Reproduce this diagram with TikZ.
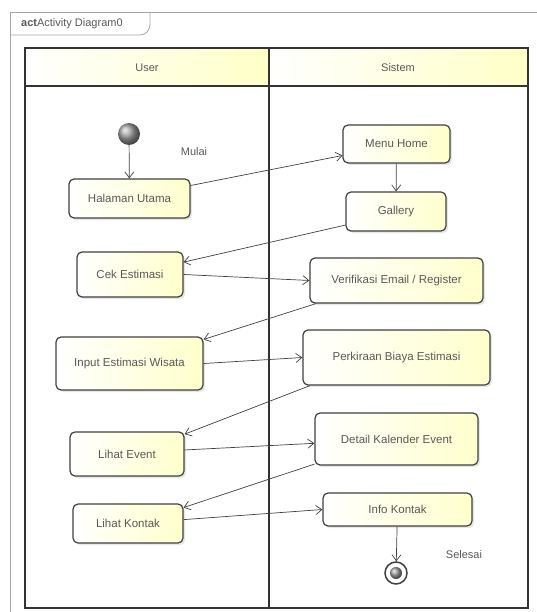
\documentclass[tikz,border=0pt]{standalone}
\usepackage{fontspec}
\setmainfont{Liberation Sans}
\usetikzlibrary{arrows.meta,shadows}

\begin{document}
\begin{tikzpicture}[x=1pt,y=-1pt,
  action/.style={draw=linegray, line width=1.2pt, rounded corners=5pt, left color=white, right color=actyellow,
    drop shadow={shadow xshift=2pt, shadow yshift=-2pt, opacity=0.2, fill=gray}, inner sep=0pt,
    font=\fontsize{11.5}{13}\selectfont, text=textgray},
  flow/.style={draw=linegray, line width=0.7pt, -{Straight Barb[length=6pt,width=9pt]}},
  lane/.style={draw=lanegray, line width=1.5pt},
  note/.style={font=\fontsize{11}{13}\selectfont, text=textgray},
  ball/.style={circle, inner sep=0pt, shading=ball, ball color=gray!75}]

% Define colors
\definecolor{linegray}{rgb}{0.25, 0.25, 0.25}
\definecolor{lanegray}{rgb}{0.2, 0.2, 0.2}
\definecolor{framegray}{rgb}{0.65, 0.65, 0.65}
\definecolor{textgray}{rgb}{0.35, 0.35, 0.35}
\definecolor{actyellow}{rgb}{1, 1, 0.8}
\definecolor{headyellow}{rgb}{1, 1, 0.78}

\useasboundingbox (0,0) rectangle (536,612);

% Draw the frame
\draw[framegray, line width=0.8pt] (560,12) -- (10,12) -- (10,640);
\draw[framegray, line width=0.8pt] (10,35) -- (140,35) .. controls (146,35) and (150,30) .. (150,24) -- (150,12);
\node[anchor=west, note, inner sep=0pt] (title) at (21,24) {\textbf{act}Activity Diagram0};

% Draw the lanes
\fill[left color=white, right color=headyellow] (25,48) rectangle (269,86);
\fill[left color=white, right color=headyellow] (269,48) rectangle (528,86);
\draw[lane] (25,48) rectangle (269,608);
\draw[lane] (269,48) rectangle (528,608);
\draw[lane] (25,86) -- (528,86);
\node[note] (user) at (147,68) {User};
\node[note] (sistem) at (398,68) {Sistem};

% Draw the actions
\node[ball, minimum size=22pt] (start) at (129,134) {};
\node[note] (mulai) at (194,152) {Mulai};

\node[action, minimum width=121pt, minimum height=39pt] (halaman) at (129.5,198.5) {Halaman Utama};
\node[action, minimum width=106pt, minimum height=45pt] (cek) at (130,274.5) {Cek Estimasi};
\node[action, minimum width=147pt, minimum height=53pt] (input) at (129.5,363.5) {Input Estimasi Wisata};
\node[action, minimum width=114pt, minimum height=44pt] (event) at (127,454) {Lihat Event};
\node[action, minimum width=110pt, minimum height=39pt] (kontak) at (128,523.5) {Lihat Kontak};

\node[action, minimum width=107pt, minimum height=38pt] (menu) at (396.5,144) {Menu Home};
\node[action, minimum width=100pt, minimum height=39pt] (gallery) at (396,211.5) {Gallery};
\node[action, minimum width=173pt, minimum height=45pt] (verifikasi) at (396.5,280.5) {Verifikasi Email / Register};
\node[action, minimum width=187pt, minimum height=55pt] (perkiraan) at (396.5,357.5) {Perkiraan Biaya Estimasi};
\node[action, minimum width=163pt, minimum height=52pt] (kalender) at (396.5,439) {Detail Kalender Event};
\node[action, minimum width=149pt, minimum height=33pt] (info) at (397.5,509.5) {Info Kontak};

\node[circle, draw=linegray, line width=1.5pt, fill=white, minimum size=22pt, inner sep=0pt] (finish) at (396,573) {};
\node[ball, minimum size=12pt] (finishdot) at (finish) {};
\node[note] (selesai) at (464,555) {Selesai};

% Draw the flows
\draw[flow] (start) -- (halaman);
\draw[flow] (halaman.12) -- (menu.192);
\draw[flow] (menu) -- (gallery);
\draw[flow] (gallery.195) -- (cek.13);
\draw[flow] (cek.east) -- (verifikasi.west);
\draw[flow] (verifikasi.196) -- (input.18);
\draw[flow] (input.east) -- (perkiraan.west);
\draw[flow] (perkiraan.198) -- (event.19);
\draw[flow] (event.4) -- (kalender.183);
\draw[flow] (kalender.197) -- (kontak.16);
\draw[flow] (kontak.4) -- (info.west);
\draw[flow] (info) -- (finish);

\end{tikzpicture}
\end{document}
